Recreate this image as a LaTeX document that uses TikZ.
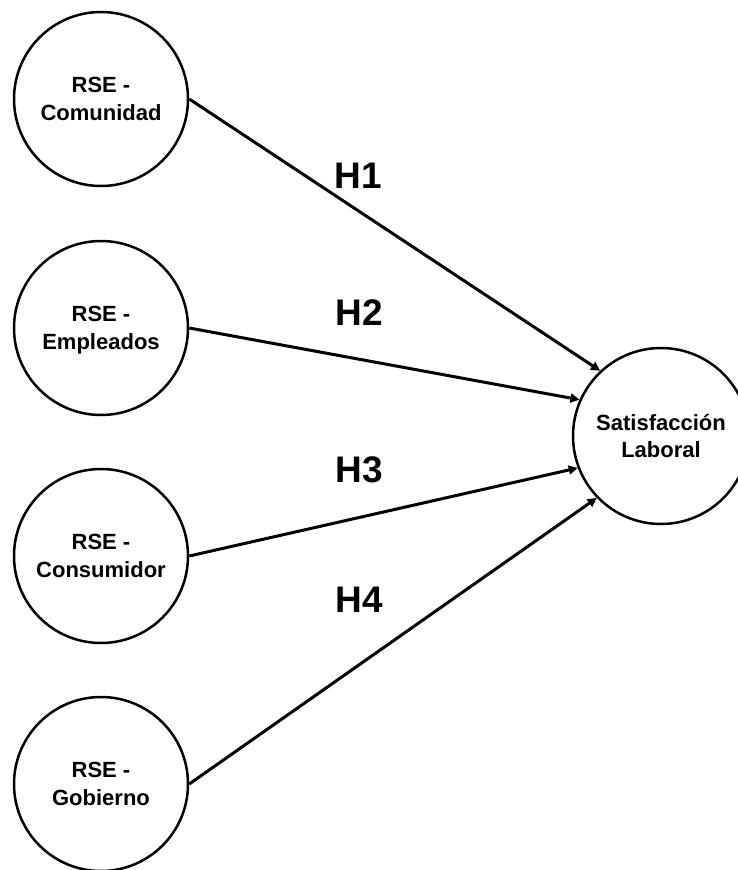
\documentclass[tikz,border=0pt]{standalone}
\usepackage{fontspec}
\setmainfont{Liberation Sans}
\usetikzlibrary{arrows.meta}
\begin{document}
\begin{tikzpicture}[x=1pt,y=-1pt,
  construct/.style={draw=black, line width=2.5pt, circle, minimum size=174pt, inner sep=0pt,
    align=center, text depth=0pt, font=\fontsize{22}{27.5}\selectfont\bfseries},
  path/.style={line width=3pt, -{Triangle[length=9pt,width=9pt]}},
  hyp/.style={inner sep=0pt, font=\fontsize{37}{40}\selectfont\bfseries}]
\useasboundingbox (0,0) rectangle (737,870);
\node[construct] (c1) at (101,99)  {RSE -\\Comunidad};
\node[construct] (c2) at (101,328) {RSE -\\Empleados};
\node[construct] (c3) at (101,556) {RSE -\\Consumidor};
\node[construct] (c4) at (101,784) {RSE -\\Gobierno};
\node[construct, minimum size=176pt] (sl) at (661,436) {Satisfacción\\Laboral};
\draw[path] (c1.east) -- (sl.133);
\draw[path] (c2.east) -- (sl.156);
\draw[path] (c3.east) -- (sl.201);
\draw[path] (c4.east) -- (sl.224);
\node[hyp] (h1) at (358,176) {H1};
\node[hyp] (h2) at (359,313) {H2};
\node[hyp] (h3) at (359,470) {H3};
\node[hyp] (h4) at (359,600) {H4};
\end{tikzpicture}
\end{document}
